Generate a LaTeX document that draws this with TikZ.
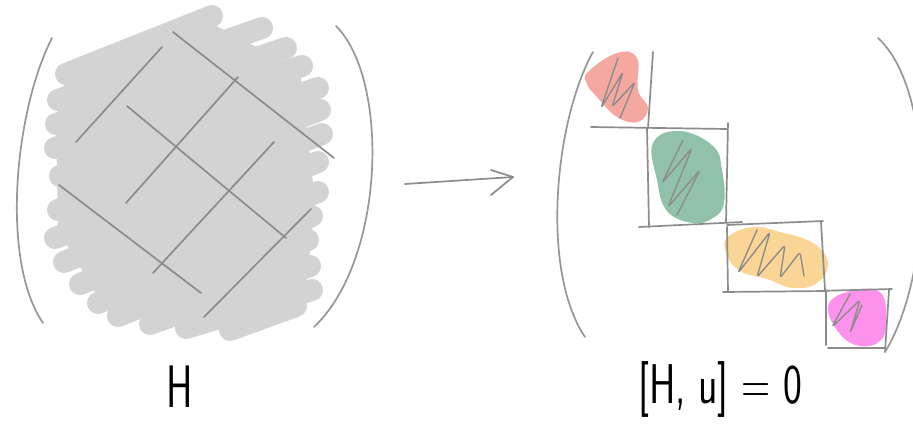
\documentclass[tikz,border=0pt]{standalone}
\usetikzlibrary{arrows.meta}
\definecolor{pen}{HTML}{8C8C8C}
\definecolor{blobgray}{HTML}{D3D3D3}
\definecolor{salmon}{HTML}{F4A8A0}
\definecolor{sage}{HTML}{92C1AA}
\definecolor{peach}{HTML}{FBD596}
\definecolor{pinkish}{HTML}{FC92EB}
\tikzset{
  pencil/.style={draw=pen, line width=1.7pt, line cap=round, line join=round},
  paren/.style={draw=pen!90, line width=1.7pt, line cap=round},
  brush/.style={draw=blobgray, line width=22pt, line cap=round},
  label/.style={font=\sffamily\fontsize{40}{40}\selectfont, inner sep=0pt}
}
\begin{document}
\begin{tikzpicture}[x=1pt,y=-1pt]
\useasboundingbox (0,0) rectangle (913,428);
\clip (0,0) rectangle (913,428);
\fill[white] (0,0) rectangle (913,428);

% ---------- left matrix ----------
\fill[blobgray] (65,80) -- (205,20) -- (300,70) -- (315,200) -- (305,300) -- (230,322) -- (100,300) -- (58,230) -- (56,120) -- cycle;
\foreach \lx/\ly/\rx/\ry in {
  66/74/212/16, 58/100/262/28, 56/124/286/48, 55/148/302/66,
  60/176/318/88, 58/210/320/110, 55/238/322/134, 64/262/318/162,
  80/284/318/192, 98/303/312/216, 118/316/308/240, 150/324/310/266,
  186/328/312/290, 230/330/296/306}
  \draw[brush] (\lx,\ly) -- (\rx,\ry);
% grid scribble
\draw[pencil] (173,32) -- (334,158);
\draw[pencil] (127,106) -- (286,238);
\draw[pencil] (59,185) -- (201,293);
\draw[pencil] (162,47) -- (76,142);
\draw[pencil] (238,77) -- (126,203);
\draw[pencil] (274,142) -- (153,273);
\draw[pencil] (311,209) -- (204,317);
% parentheses
\draw[paren] (52,38) .. controls (15,110) and (0,260) .. (43,323);
\draw[paren] (336,26) .. controls (390,80) and (385,260) .. (314,327);

% ---------- arrow ----------
\coordinate (a1) at (405,184);
\coordinate (a2) at (513,177);
\draw[pencil] (a1) -- (a2);
\draw[pencil] (491,170) -- (a2) -- (491,195);

% ---------- right matrix ----------
% colored blobs
\fill[salmon] plot[smooth cycle, tension=0.7] coordinates {
 (588,72) (617,53) (637,58) (638,90) (648,108) (638,122) (617,117) (597,97) (587,84)};
\fill[sage] plot[smooth cycle, tension=0.7] coordinates {
 (653,143) (680,131) (713,146) (722,170) (724,203) (713,218) (693,223) (667,211) (657,180)};
\fill[peach] plot[smooth cycle, tension=0.7] coordinates {
 (728,237) (753,227) (780,232) (813,243) (828,263) (817,283) (793,288) (767,279) (740,271) (726,253)};
\fill[pinkish] plot[smooth cycle, tension=0.7] coordinates {
 (828,307) (847,292) (880,292) (886,323) (880,341) (860,346) (840,334)};
% scribbles inside blobs
\draw[pencil, line width=1.4pt, rounded corners=3pt] (618,58) -- (601,108) -- (623,72) -- (612,107) -- (635,82) -- (620,118);
\draw[pencil, line width=1.4pt, rounded corners=3pt] (683,140) -- (662,183) -- (692,148) -- (668,207) -- (700,170) -- (677,215);
\draw[pencil, line width=1.4pt, rounded corners=3pt] (757,230) -- (738,273) -- (770,232) -- (757,277) -- (785,245) -- (780,278) -- (800,252) -- (804,276);
\draw[pencil, line width=1.4pt, rounded corners=3pt] (850,294) -- (832,327) -- (860,300) -- (850,333) -- (862,305);
% block boxes
\draw[pencil] (653,52) -- (648,128);
\draw[pencil] (591,127) -- (727,129);
\draw[pencil] (647,128) -- (649,227);
\draw[pencil] (728,123) -- (726,223);
\draw[pencil] (639,227) -- (742,222);
\draw[pencil] (727,225) -- (823,221);
\draw[pencil] (821,222) -- (825,290);
\draw[pencil] (727,227) -- (728,292);
\draw[pencil] (723,292) -- (827,291);
\draw[pencil] (817,291) -- (892,289);
\draw[pencil] (826,290) -- (826,345);
\draw[pencil] (889,290) -- (885,352);
\draw[pencil] (828,348) -- (885,348);
% parentheses
\draw[paren] (593,52) .. controls (555,120) and (540,270) .. (585,337);
\draw[paren] (878,38) .. controls (935,90) and (935,270) .. (885,352);

% ---------- labels ----------
\node[label] (hlab) at (180,387) {\scalebox{1}[1.5]{H}};
\node[label] (clab) at (720,389) {\scalebox{1}[1.4]{[H, u] = 0}};
\end{tikzpicture}
\end{document}
